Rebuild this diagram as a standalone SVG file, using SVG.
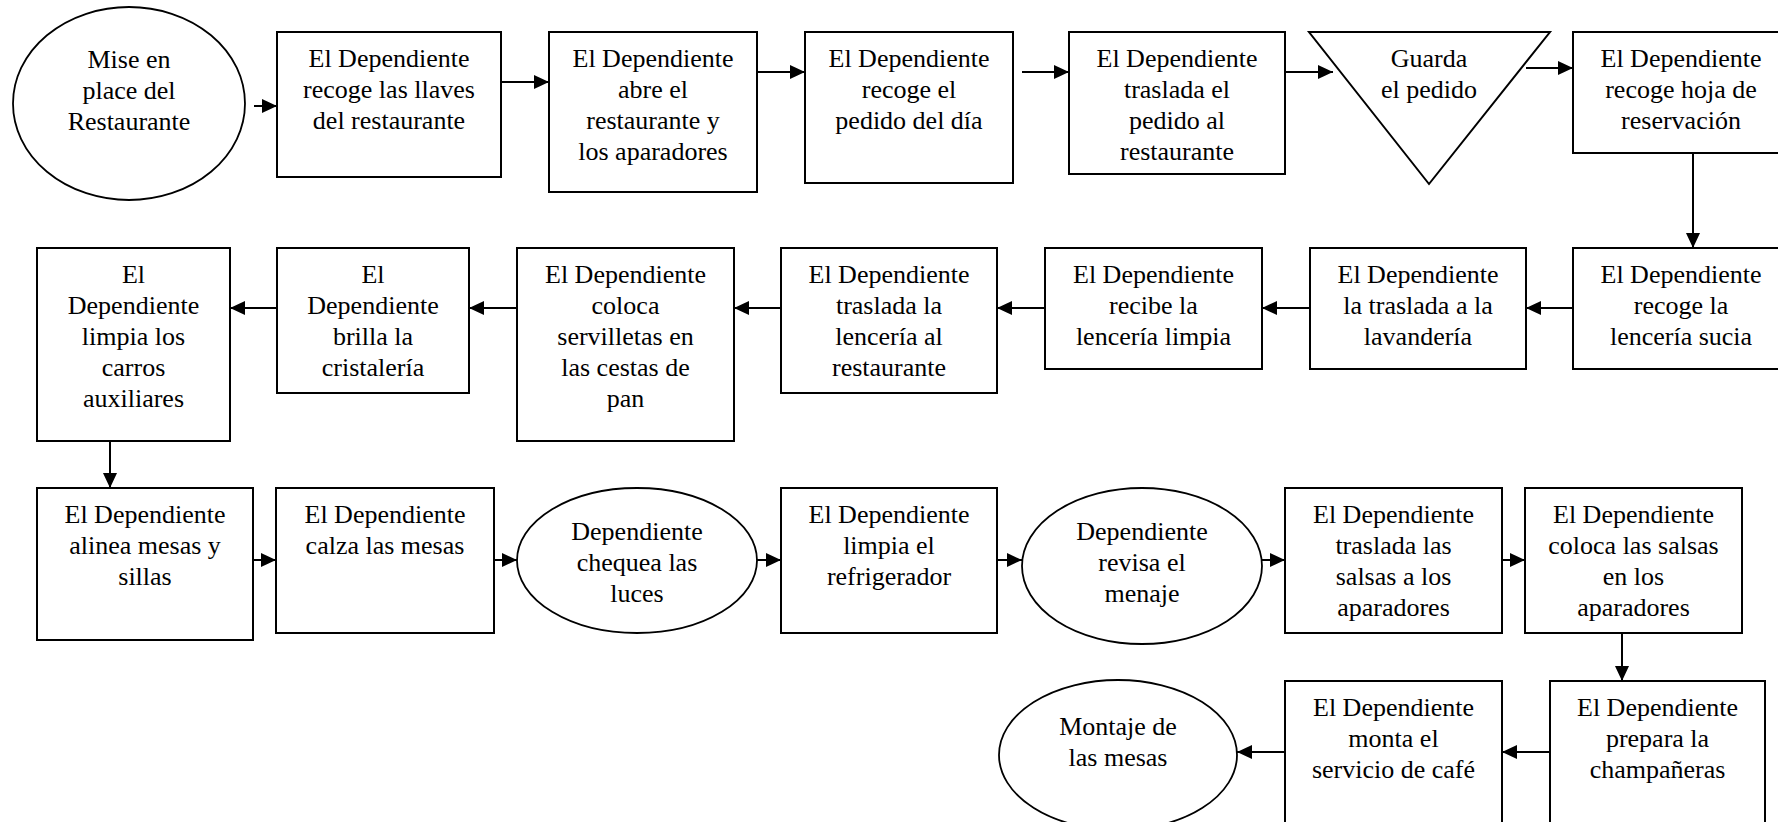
<svg xmlns="http://www.w3.org/2000/svg" width="1778" height="822" viewBox="0 0 1778 822">
  <style>
    .box { fill: #fff; stroke: #000; stroke-width: 2; }
    .oval { fill: #fff; stroke: #000; stroke-width: 1.8; }
    .lbl { font-family: "Liberation Serif", "Times New Roman", serif; font-size: 26px; fill: #000; text-anchor: middle; }
    .flow { fill: none; stroke: #000; stroke-width: 2; marker-end: url(#arrow); }
  </style>
  <defs>
    <marker id="arrow" markerUnits="userSpaceOnUse" markerWidth="16" markerHeight="16" viewBox="0 0 16 16" refX="15" refY="8" orient="auto">
      <path d="M0,1 L15,8 L0,15 Z" fill="#000"/>
    </marker>
  </defs>
  <rect width="1778" height="822" fill="#fff"/>

  <!-- row 1 -->
  <g id="n1">
    <ellipse class="oval" cx="129" cy="103.5" rx="116" ry="96.5"/>
    <text class="lbl"><tspan x="129" y="68">Mise en</tspan><tspan x="129" y="99">place del</tspan><tspan x="129" y="130">Restaurante</tspan></text>
  </g>
  <g id="n2">
    <rect class="box" x="277" y="32" width="224" height="145"/>
    <text class="lbl"><tspan x="389" y="67">El Dependiente</tspan><tspan x="389" y="98">recoge las llaves</tspan><tspan x="389" y="129">del restaurante</tspan></text>
  </g>
  <g id="n3">
    <rect class="box" x="549" y="32" width="208" height="160"/>
    <text class="lbl"><tspan x="653" y="67">El Dependiente</tspan><tspan x="653" y="98">abre el</tspan><tspan x="653" y="129">restaurante y</tspan><tspan x="653" y="160">los aparadores</tspan></text>
  </g>
  <g id="n4">
    <rect class="box" x="805" y="32" width="208" height="151"/>
    <text class="lbl"><tspan x="909" y="67">El Dependiente</tspan><tspan x="909" y="98">recoge el</tspan><tspan x="909" y="129">pedido del día</tspan></text>
  </g>
  <g id="n5">
    <rect class="box" x="1069" y="32" width="216" height="142"/>
    <text class="lbl"><tspan x="1177" y="67">El Dependiente</tspan><tspan x="1177" y="98">traslada el</tspan><tspan x="1177" y="129">pedido al</tspan><tspan x="1177" y="160">restaurante</tspan></text>
  </g>
  <g id="n6">
    <polygon class="box" points="1309,32 1550,32 1429,184"/>
    <text class="lbl"><tspan x="1429" y="67">Guarda</tspan><tspan x="1429" y="98">el pedido</tspan></text>
  </g>
  <g id="n7">
    <rect class="box" x="1573" y="32" width="217" height="121"/>
    <text class="lbl"><tspan x="1681" y="67">El Dependiente</tspan><tspan x="1681" y="98">recoge hoja de</tspan><tspan x="1681" y="129">reservación</tspan></text>
  </g>

  <!-- row 2 -->
  <g id="n8">
    <rect class="box" x="1573" y="248" width="217" height="121"/>
    <text class="lbl"><tspan x="1681" y="283">El Dependiente</tspan><tspan x="1681" y="314">recoge la</tspan><tspan x="1681" y="345">lencería sucia</tspan></text>
  </g>
  <g id="n9">
    <rect class="box" x="1310" y="248" width="216" height="121"/>
    <text class="lbl"><tspan x="1418" y="283">El Dependiente</tspan><tspan x="1418" y="314">la traslada a la</tspan><tspan x="1418" y="345">lavandería</tspan></text>
  </g>
  <g id="n10">
    <rect class="box" x="1045" y="248" width="217" height="121"/>
    <text class="lbl"><tspan x="1153.5" y="283">El Dependiente</tspan><tspan x="1153.5" y="314">recibe la</tspan><tspan x="1153.5" y="345">lencería limpia</tspan></text>
  </g>
  <g id="n11">
    <rect class="box" x="781" y="248" width="216" height="145"/>
    <text class="lbl"><tspan x="889" y="283">El Dependiente</tspan><tspan x="889" y="314">traslada la</tspan><tspan x="889" y="345">lencería al</tspan><tspan x="889" y="376">restaurante</tspan></text>
  </g>
  <g id="n12">
    <rect class="box" x="517" y="248" width="217" height="193"/>
    <text class="lbl"><tspan x="625.5" y="283">El Dependiente</tspan><tspan x="625.5" y="314">coloca</tspan><tspan x="625.5" y="345">servilletas en</tspan><tspan x="625.5" y="376">las cestas de</tspan><tspan x="625.5" y="407">pan</tspan></text>
  </g>
  <g id="n13">
    <rect class="box" x="277" y="248" width="192" height="145"/>
    <text class="lbl"><tspan x="373" y="283">El</tspan><tspan x="373" y="314">Dependiente</tspan><tspan x="373" y="345">brilla la</tspan><tspan x="373" y="376">cristalería</tspan></text>
  </g>
  <g id="n14">
    <rect class="box" x="37" y="248" width="193" height="193"/>
    <text class="lbl"><tspan x="133.5" y="283">El</tspan><tspan x="133.5" y="314">Dependiente</tspan><tspan x="133.5" y="345">limpia los</tspan><tspan x="133.5" y="376">carros</tspan><tspan x="133.5" y="407">auxiliares</tspan></text>
  </g>

  <!-- row 3 -->
  <g id="n15">
    <rect class="box" x="37" y="488" width="216" height="152"/>
    <text class="lbl"><tspan x="145" y="523">El Dependiente</tspan><tspan x="145" y="554">alinea mesas y</tspan><tspan x="145" y="585">sillas</tspan></text>
  </g>
  <g id="n16">
    <rect class="box" x="276" y="488" width="218" height="145"/>
    <text class="lbl"><tspan x="385" y="523">El Dependiente</tspan><tspan x="385" y="554">calza las mesas</tspan></text>
  </g>
  <g id="n17">
    <ellipse class="oval" cx="637" cy="560.5" rx="120" ry="72.5"/>
    <text class="lbl"><tspan x="637" y="540">Dependiente</tspan><tspan x="637" y="571">chequea las</tspan><tspan x="637" y="602">luces</tspan></text>
  </g>
  <g id="n18">
    <rect class="box" x="781" y="488" width="216" height="145"/>
    <text class="lbl"><tspan x="889" y="523">El Dependiente</tspan><tspan x="889" y="554">limpia el</tspan><tspan x="889" y="585">refrigerador</tspan></text>
  </g>
  <g id="n19">
    <ellipse class="oval" cx="1142" cy="566" rx="120" ry="78"/>
    <text class="lbl"><tspan x="1142" y="540">Dependiente</tspan><tspan x="1142" y="571">revisa el</tspan><tspan x="1142" y="602">menaje</tspan></text>
  </g>
  <g id="n20">
    <rect class="box" x="1285" y="488" width="217" height="145"/>
    <text class="lbl"><tspan x="1393.5" y="523">El Dependiente</tspan><tspan x="1393.5" y="554">traslada las</tspan><tspan x="1393.5" y="585">salsas a los</tspan><tspan x="1393.5" y="616">aparadores</tspan></text>
  </g>
  <g id="n21">
    <rect class="box" x="1525" y="488" width="217" height="145"/>
    <text class="lbl"><tspan x="1633.5" y="523">El Dependiente</tspan><tspan x="1633.5" y="554">coloca las salsas</tspan><tspan x="1633.5" y="585">en los</tspan><tspan x="1633.5" y="616">aparadores</tspan></text>
  </g>

  <!-- row 4 -->
  <g id="n22">
    <rect class="box" x="1550" y="681" width="215" height="160"/>
    <text class="lbl"><tspan x="1657.5" y="716">El Dependiente</tspan><tspan x="1657.5" y="747">prepara la</tspan><tspan x="1657.5" y="778">champañeras</tspan></text>
  </g>
  <g id="n23">
    <rect class="box" x="1285" y="681" width="217" height="160"/>
    <text class="lbl"><tspan x="1393.5" y="716">El Dependiente</tspan><tspan x="1393.5" y="747">monta el</tspan><tspan x="1393.5" y="778">servicio de café</tspan></text>
  </g>
  <g id="n24">
    <ellipse class="oval" cx="1118" cy="755" rx="119" ry="75"/>
    <text class="lbl"><tspan x="1118" y="735">Montaje de</tspan><tspan x="1118" y="766">las mesas</tspan></text>
  </g>

  <!-- connectors -->
  <g id="connectors">
    <path class="flow" d="M254,106 H277"/>
    <path class="flow" d="M501,82 H549"/>
    <path class="flow" d="M757,72 H805"/>
    <path class="flow" d="M1022,72 H1069"/>
    <path class="flow" d="M1285,72 H1333"/>
    <path class="flow" d="M1526,68 H1573"/>
    <path class="flow" d="M1693,153 V248"/>
    <path class="flow" d="M1573,308 H1526"/>
    <path class="flow" d="M1310,308 H1262"/>
    <path class="flow" d="M1045,308 H997"/>
    <path class="flow" d="M781,308 H734"/>
    <path class="flow" d="M517,308 H469"/>
    <path class="flow" d="M277,308 H230"/>
    <path class="flow" d="M110,441 V488"/>
    <path class="flow" d="M253,560 H276"/>
    <path class="flow" d="M494,560 H517"/>
    <path class="flow" d="M757,560 H781"/>
    <path class="flow" d="M997,560 H1022"/>
    <path class="flow" d="M1262,560 H1285"/>
    <path class="flow" d="M1502,560 H1525"/>
    <path class="flow" d="M1622,633 V681"/>
    <path class="flow" d="M1550,752 H1502"/>
    <path class="flow" d="M1285,752 H1237"/>
  </g>
</svg>
